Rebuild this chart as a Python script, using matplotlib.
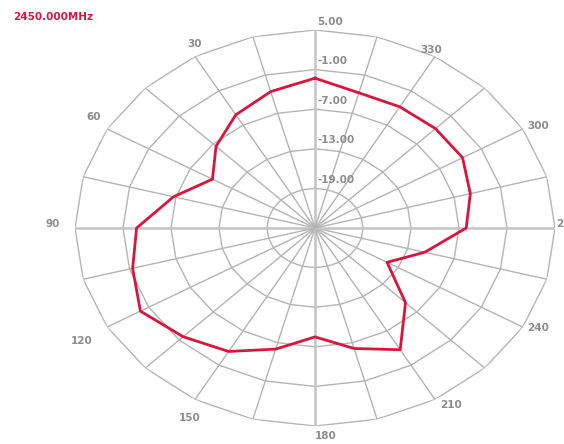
import numpy as np
import matplotlib
matplotlib.use("Agg")
import matplotlib.pyplot as plt

# pattern, dB at each angle (deg, CCW from top)
angles_deg = [0, 15, 30, 45, 60, 75, 90, 105, 120, 135, 150, 165,
              180, 195, 210, 225, 240, 255, 270, 285, 300, 315, 330, 345, 360]
gain_db = [-2.3, -3.6, -5.2, -7.5, -10.2, -6.7, -2.7, -1.4, 0.2, -1.7, -3.4, -6.0,
           -8.5, -6.1, -3.7, -9.0, -14.6, -10.8, -6.1, -4.9, -3.7, -3.7, -3.8, -3.8, -2.3]

ring_levels = [5, -1, -7, -13, -19]
ring_labels = ["5.00", "-1.00", "-7.00", "-13.00", "-19.00"]
angle_labels = [30, 60, 90, 120, 150, 180, 210, 240, 270, 300, 330]
title = "2450.000MHz"

# where each angle label sits relative to its outer-ring corner, in pixels (x right, y down)
label_shift = {30: (0, -13), 60: (-14, -12), 90: (-22, -4), 120: (-25, 14),
               150: (-5, 19), 180: (11, 10), 210: (16, 6), 240: (15, 1),
               270: (12, -4), 300: (15, -3), 330: (-4, -7)}

r_min, r_max = -25, 5
grid_col = "#b4b4b4"
text_col = "#8c8c8c"
red = "#dc143c"
px = 72 / 100  # pixels -> points at dpi 100

fig = plt.figure(figsize=(5.64, 4.44), dpi=100)
ax = fig.add_axes([75 / 564, 18 / 444, 480 / 564, 396 / 444], projection="polar")
ax.set_aspect("auto")
ax.set_theta_zero_location("N")
ax.set_theta_direction(1)
ax.set_rlim(r_min, r_max)
ax.grid(False)
ax.set_xticks([])
ax.set_yticks([])
ax.spines["polar"].set_visible(False)

# polygonal rings and spokes like the original
spoke = np.deg2rad(np.arange(0, 361, 15))
for lev in ring_levels:
    ax.plot(spoke, [lev] * len(spoke), color=grid_col, lw=1, zorder=1)
for a in spoke[:-1]:
    thick = int(round(np.rad2deg(a))) % 90 == 0
    ax.plot([a, a], [r_min, r_max], color="#c4c4c4" if thick else grid_col,
            lw=1.8 if thick else 1, zorder=1)

ax.plot(np.deg2rad(angles_deg), gain_db, color=red, lw=2, zorder=3)

for lev, lab in zip(ring_levels, ring_labels):
    ax.annotate(lab, xy=(0, lev), xytext=(1.5, 2.5), textcoords="offset points",
                ha="left", va="bottom", color=text_col, fontsize=7.5,
                fontweight="bold", annotation_clip=False, zorder=4)

for a in angle_labels:
    dx, dy = label_shift[a]
    ax.annotate(str(a), xy=(np.deg2rad(a), r_max), xytext=(dx * px, -dy * px),
                textcoords="offset points", ha="center", va="center",
                color=text_col, fontsize=7.5, fontweight="bold",
                annotation_clip=False)

fig.text(13 / 564, 1 - 17 / 444, title, color=red, fontsize=7.5,
         fontweight="bold", ha="left", va="center")

fig.savefig("out.png", dpi=100)
